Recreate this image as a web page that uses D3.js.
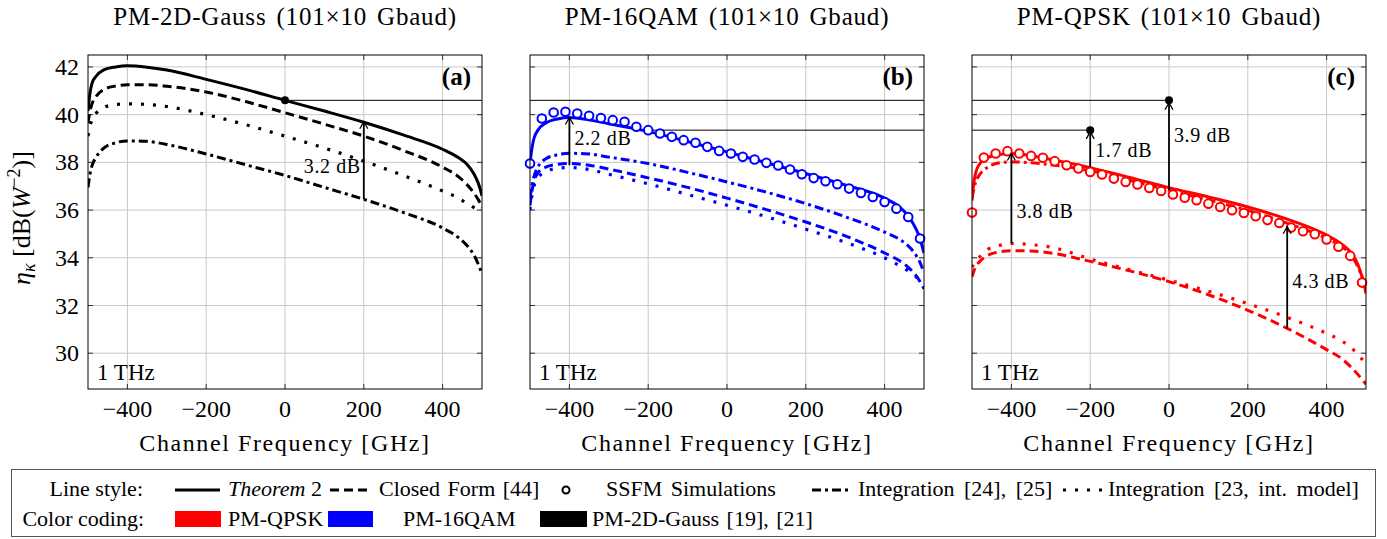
<!DOCTYPE html>
<html><head><meta charset="utf-8">
<script src="https://cdn.jsdelivr.net/npm/d3@7"></script>
<style>
body{margin:0;background:#fff}
svg{display:block}
text{font-family:"Liberation Serif","Times New Roman",serif;fill:#000}
</style>
</head><body>
<svg id="chart" width="1387" height="539"></svg>
<script>
// ---------------- data ----------------
const freq = [-500,-495,-490,-480,-460,-430,-400,-350,-300,-200,-100,0,100,200,300,400,440,460,480,490,495,500];

// Panel (a) PM-2D-Gauss
const aTheorem  = [40.15,40.9,41.3,41.6,41.88,42.0,42.05,41.99,41.87,41.48,41.06,40.6,40.15,39.68,39.15,38.55,38.2,37.95,37.5,37.15,36.9,36.6];
const aClosed   = [39.65,40.15,40.45,40.75,41.05,41.2,41.25,41.25,41.19,40.95,40.55,40.08,39.6,39.1,38.5,37.8,37.4,37.1,36.7,36.45,36.3,36.1];
const aIntInt   = [39.1,39.5,39.8,40.05,40.3,40.42,40.45,40.43,40.34,40.0,39.58,39.1,38.6,38.05,37.45,36.8,36.5,36.3,36.1,36.0,35.95,35.9];
const aInt2425  = [36.95,37.5,37.85,38.2,38.6,38.82,38.9,38.88,38.75,38.35,37.9,37.45,36.95,36.45,35.9,35.25,34.85,34.55,34.1,33.75,33.55,33.3];

// Panel (b) PM-16QAM
const bTheorem  = [37.95,38.6,39.0,39.35,39.65,39.82,39.88,39.78,39.62,39.3,38.87,38.44,37.98,37.53,37.05,36.5,36.1,35.75,35.2,34.8,34.5,34.2];
const bClosed   = [36.2,36.8,37.2,37.55,37.8,37.92,37.95,37.88,37.72,37.35,36.95,36.5,36.02,35.5,34.92,34.2,33.85,33.6,33.25,33.0,32.85,32.7];
const bIntInt   = [36.0,36.6,37.0,37.35,37.6,37.75,37.78,37.7,37.5,37.1,36.65,36.2,35.72,35.2,34.65,34.0,33.65,33.45,33.2,33.05,33.0,32.95];
const bInt2425  = [36.5,37.0,37.4,37.8,38.15,38.32,38.38,38.35,38.22,37.95,37.58,37.18,36.75,36.27,35.72,35.08,34.75,34.5,34.1,33.8,33.6,33.4];

// Panel (c) PM-QPSK
const cTheorem  = [36.4,37.2,37.6,37.95,38.2,38.33,38.37,38.28,38.12,37.78,37.37,36.94,36.55,36.13,35.62,34.95,34.55,34.25,33.7,33.2,32.9,32.5];
const cClosed   = [33.2,33.45,33.65,33.85,34.1,34.25,34.3,34.28,34.2,33.85,33.45,33.0,32.45,31.8,31.04,30.15,29.75,29.45,29.1,28.9,28.8,28.7];
const cIntInt   = [33.6,33.75,33.9,34.05,34.35,34.52,34.6,34.55,34.45,33.95,33.5,33.06,32.6,32.08,31.5,30.83,30.5,30.25,29.95,29.75,29.65,29.55];
const cInt2425  = [36.5,36.9,37.2,37.5,37.8,37.98,38.02,37.98,37.9,37.65,37.25,36.83,36.42,35.99,35.45,34.81,34.45,34.15,33.6,33.2,32.95,32.6];

// SSFM simulation points
const ssfmFreq = [-500,-470,-440,-410,-380,-350,-320,-290,-260,-230,-200,-170,-140,-110,-80,-50,-20,10,40,70,100,130,160,190,220,250,280,310,340,370,400,430,460,490];
const bSSFM = [37.95,39.84,40.09,40.12,40.05,39.95,39.86,39.77,39.70,39.49,39.35,39.21,39.07,38.93,38.82,38.65,38.48,38.37,38.23,38.12,37.98,37.87,37.70,37.50,37.34,37.21,37.08,36.90,36.72,36.55,36.34,36.06,35.71,34.81];
const cSSFM = [35.9,38.2,38.37,38.47,38.37,38.27,38.19,38.05,37.88,37.74,37.6,37.49,37.32,37.18,37.07,36.93,36.8,36.65,36.52,36.41,36.27,36.13,35.99,35.88,35.74,35.58,35.46,35.27,35.11,34.99,34.77,34.46,34.08,32.96];

// axes
const xTicks = [-400,-200,0,200,400];
const yTicks = [30,32,34,36,38,40,42];
const titles = ["PM-2D-Gauss (101×10 Gbaud)","PM-16QAM (101×10 Gbaud)","PM-QPSK (101×10 Gbaud)"];
const panelTags = ["(a)","(b)","(c)"];
const colors = ["#000000","#0000ff","#ff0000"];

// annotations: reference levels [panel, level, fromFreq, toFreq, dotFreq]
const refLines = [
  [0, 40.6, 0, 500, 0],
  [1, 40.6, -500, 500, null],
  [1, 39.35, -200, 500, null],
  [2, 40.6, -500, 0, 0],
  [2, 39.35, -500, -200, -200]
];
// arrows: [panel, freq, from, to, label, labelLevel, side]
const arrows = [
  [0, 200, 36.45, 39.7, "3.2 dB", 37.55, "left"],
  [1, -400, 37.88, 39.88, "2.2 dB", 38.73, "right"],
  [2, -200, 37.8, 39.28, "1.7 dB", 38.21, "right"],
  [2, 0, 36.83, 40.5, "3.9 dB", 38.87, "right"],
  [2, -400, 34.6, 38.37, "3.8 dB", 35.67, "right"],
  [2, 300, 31.04, 35.3, "4.3 dB", 32.73, "right"]
];

// ---------------- drawing ----------------
const svg = d3.select("#chart");
const plotTop = 55, plotBottom = 389, pw = 394;
const lefts = [88, 530, 972];
const y = d3.scaleLinear().domain([28.5, 42.5]).range([plotBottom, plotTop]);

const panels = [
  {th:aTheorem, cf:aClosed, ii:aIntInt, i2:aInt2425, ss:null},
  {th:bTheorem, cf:bClosed, ii:bIntInt, i2:bInt2425, ss:bSSFM},
  {th:cTheorem, cf:cClosed, ii:cIntInt, i2:cInt2425, ss:cSSFM}
];

const styles = {
  th:{dash:null, w:3},
  cf:{dash:"9,5", w:3},
  ii:{dash:"3,9", w:3.2},
  i2:{dash:"9,4,3,4", w:3}
};

panels.forEach((p, i) => {
  const L = lefts[i];
  const x = d3.scaleLinear().domain([-500, 500]).range([L, L + pw]);
  const g = svg.append("g");
  const col = colors[i];

  svg.append("clipPath").attr("id", "clip" + i)
    .append("rect").attr("x", L).attr("y", plotTop).attr("width", pw).attr("height", plotBottom - plotTop);

  // grid
  g.selectAll(".gx").data(xTicks).enter().append("line")
    .attr("x1", d => x(d)).attr("x2", d => x(d)).attr("y1", plotTop).attr("y2", plotBottom)
    .attr("stroke", "#c8c8c8").attr("stroke-width", 1);
  g.selectAll(".gy").data(yTicks).enter().append("line")
    .attr("x1", L).attr("x2", L + pw).attr("y1", d => y(d)).attr("y2", d => y(d))
    .attr("stroke", "#c8c8c8").attr("stroke-width", 1);

  // tick marks (inward, both sides)
  const tk = 5;
  xTicks.forEach(t => {
    g.append("line").attr("x1", x(t)).attr("x2", x(t)).attr("y1", plotBottom).attr("y2", plotBottom - tk).attr("stroke", "#333");
    g.append("line").attr("x1", x(t)).attr("x2", x(t)).attr("y1", plotTop).attr("y2", plotTop + tk).attr("stroke", "#333");
  });
  yTicks.forEach(t => {
    g.append("line").attr("x1", L).attr("x2", L + tk).attr("y1", y(t)).attr("y2", y(t)).attr("stroke", "#333");
    g.append("line").attr("x1", L + pw).attr("x2", L + pw - tk).attr("y1", y(t)).attr("y2", y(t)).attr("stroke", "#333");
  });

  // reference lines
  refLines.filter(r => r[0] === i).forEach(r => {
    g.append("line").attr("x1", x(r[2])).attr("x2", x(r[3])).attr("y1", y(r[1])).attr("y2", y(r[1]))
      .attr("stroke", "#000").attr("stroke-width", 1);
  });

  // curves
  const line = d3.line().x((d, k) => x(freq[k])).y(d => y(d)).curve(d3.curveMonotoneX);
  const cg = g.append("g").attr("clip-path", `url(#clip${i})`);
  ["ii", "i2", "cf", "th"].forEach(k => {
    cg.append("path").datum(p[k]).attr("d", line)
      .attr("fill", "none").attr("stroke", col).attr("stroke-width", styles[k].w)
      .attr("stroke-dasharray", styles[k].dash)
      .attr("stroke-linejoin", "round");
  });

  // SSFM circles
  if (p.ss) {
    g.selectAll(".ss").data(p.ss).enter().append("circle")
      .attr("cx", (d, k) => x(ssfmFreq[k])).attr("cy", d => y(d)).attr("r", 4.3)
      .attr("fill", "#fff").attr("stroke", col).attr("stroke-width", 2);
  }

  // dots on reference lines
  refLines.filter(r => r[0] === i && r[4] !== null).forEach(r => {
    g.append("circle").attr("cx", x(r[4])).attr("cy", y(r[1])).attr("r", 4).attr("fill", "#000");
  });

  // arrows
  arrows.filter(a => a[0] === i).forEach(a => {
    const ax = x(a[1]), y0 = y(a[2]), y1 = y(a[3]);
    g.append("line").attr("x1", ax).attr("x2", ax).attr("y1", y0).attr("y2", y1)
      .attr("stroke", "#000").attr("stroke-width", 1.8);
    g.append("path").attr("d", `M${ax - 4},${y1 + 7} L${ax},${y1} L${ax + 4},${y1 + 7}`)
      .attr("fill", "none").attr("stroke", "#000").attr("stroke-width", 1.3);
    g.append("text").attr("x", a[6] === "left" ? ax - 3 : ax + 5).attr("y", y(a[5]))
      .attr("text-anchor", a[6] === "left" ? "end" : "start")
      .attr("font-size", 20).attr("letter-spacing", 0.6).text(a[4]);
  });

  // frame
  g.append("rect").attr("x", L).attr("y", plotTop).attr("width", pw).attr("height", plotBottom - plotTop)
    .attr("fill", "none").attr("stroke", "#000").attr("stroke-width", 1);

  // x tick labels
  g.selectAll(".xl").data(xTicks).enter().append("text")
    .attr("x", d => x(d)).attr("y", 417).attr("text-anchor", "middle")
    .attr("font-size", 24).text(d => d < 0 ? "\u2212" + Math.abs(d) : d);

  // y tick labels (first panel only)
  if (i === 0) {
    g.selectAll(".yl").data(yTicks).enter().append("text")
      .attr("x", L - 9).attr("y", d => y(d) + 8).attr("text-anchor", "end")
      .attr("font-size", 24).text(d => d);
  }

  // x axis label
  g.append("text").attr("x", L + pw / 2).attr("y", 451).attr("text-anchor", "middle")
    .attr("font-size", 24).attr("letter-spacing", 1.6).text("Channel Frequency [GHz]");

  // title
  g.append("text").attr("x", L + pw / 2).attr("y", 25).attr("text-anchor", "middle")
    .attr("font-size", 25).attr("letter-spacing", 0.8).attr("word-spacing", 3).text(titles[i]);

  // tag
  g.append("text").attr("x", L + pw - 11).attr("y", 85).attr("text-anchor", "end")
    .attr("font-size", 25).attr("font-weight", "bold").text(panelTags[i]);

  // 1 THz
  g.append("text").attr("x", L + 9).attr("y", 380).attr("font-size", 23).text("1 THz");
});

// y axis label
const yl = svg.append("text").attr("transform", "translate(30,218) rotate(-90)")
  .attr("text-anchor", "middle").attr("font-size", 26);
yl.append("tspan").attr("font-style", "italic").text("η");
yl.append("tspan").attr("font-style", "italic").attr("font-size", 18).attr("dy", 5).text("κ");
yl.append("tspan").attr("dy", -5).text(" [dB(");
yl.append("tspan").attr("font-style", "italic").text("W");
yl.append("tspan").attr("font-size", 18).attr("dy", -10).text("−2");
yl.append("tspan").attr("dy", 10).text(")]");

// ---------------- legend ----------------
const lg = svg.append("g");
lg.append("rect").attr("x", 11.5).attr("y", 469.5).attr("width", 1364).attr("height", 67)
  .attr("fill", "#fff").attr("stroke", "#555").attr("stroke-width", 1);
const fs = 22, r1 = 496, r2 = 526;
lg.append("text").attr("x", 143).attr("y", r1).attr("text-anchor", "end").attr("font-size", fs).text("Line style:");
lg.append("text").attr("x", 144).attr("y", r2).attr("text-anchor", "end").attr("font-size", fs).text("Color coding:");

const lsItems = [
  {x0:175, x1:220, dash:null, label:"Theorem", extra:" 2", lx:228, italic:true, ws:0},
  {x0:330, x1:370, dash:"9,5", label:"Closed Form [44]", lx:379, ws:2},
  {circle:566, label:"SSFM Simulations", lx:606, ws:3},
  {x0:812, x1:852, dash:"9,4,3,4", label:"Integration [24], [25]", lx:858, ws:4},
  {x0:1063, x1:1103, dash:"3,9", label:"Integration [23, int. model]", lx:1108, ws:4}
];
lsItems.forEach(it => {
  if (it.circle) {
    lg.append("circle").attr("cx", it.circle).attr("cy", r1 - 6).attr("r", 3.5)
      .attr("fill", "#fff").attr("stroke", "#000").attr("stroke-width", 2);
  } else {
    lg.append("line").attr("x1", it.x0).attr("x2", it.x1).attr("y1", r1 - 6).attr("y2", r1 - 6)
      .attr("stroke", "#000").attr("stroke-width", 3).attr("stroke-dasharray", it.dash);
  }
  const t = lg.append("text").attr("x", it.lx).attr("y", r1).attr("font-size", fs).attr("word-spacing", it.ws);
  if (it.italic) {
    t.append("tspan").attr("font-style", "italic").text(it.label);
    t.append("tspan").text(it.extra);
  } else t.text(it.label);
});

const ccItems = [
  {x0:175, x1:221, color:"#ff0000", label:"PM-QPSK", lx:228},
  {x0:328, x1:373, color:"#0000ff", label:"PM-16QAM", lx:403},
  {x0:540, x1:587, color:"#000000", label:"PM-2D-Gauss [19], [21]", lx:592}
];
ccItems.forEach(it => {
  lg.append("rect").attr("x", it.x0).attr("y", r2 - 15).attr("width", it.x1 - it.x0).attr("height", 16)
    .attr("fill", it.color);
  lg.append("text").attr("x", it.lx).attr("y", r2).attr("font-size", fs).attr("word-spacing", 2).text(it.label);
});
</script>
</body></html>
